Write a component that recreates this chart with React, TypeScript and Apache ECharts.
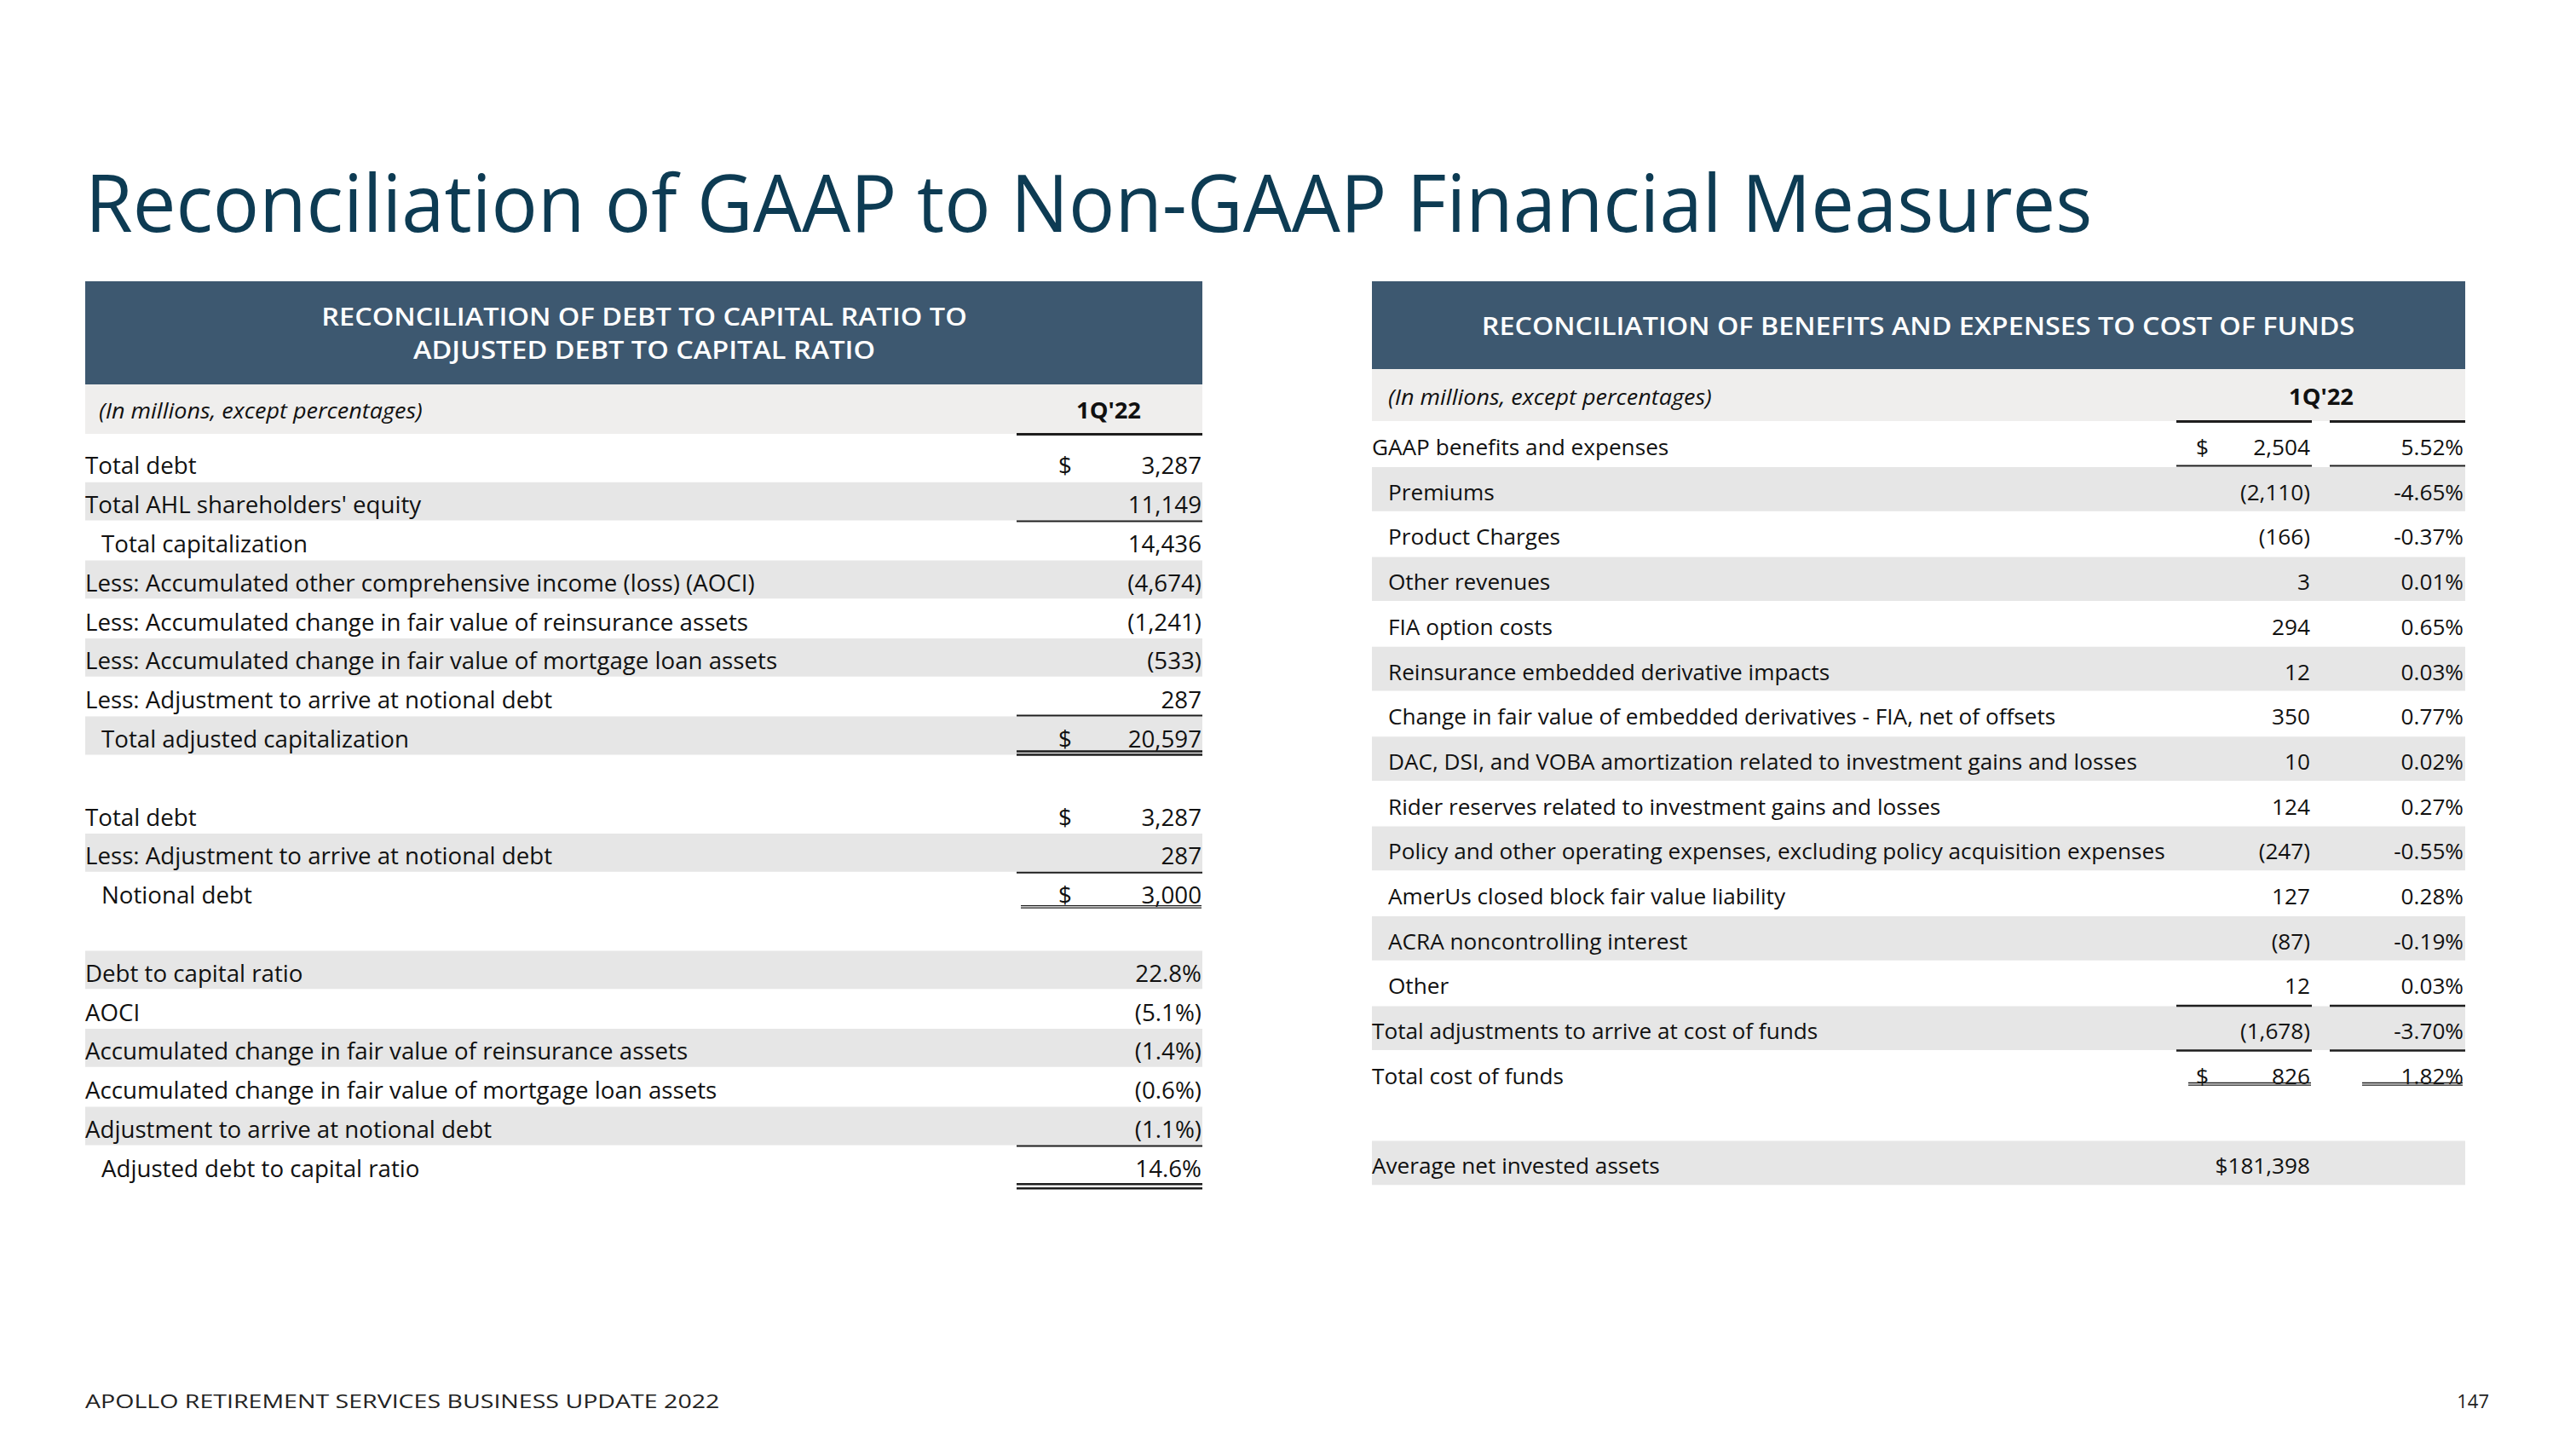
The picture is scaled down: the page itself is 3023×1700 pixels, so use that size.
import React, { useEffect, useRef } from "react";
import * as echarts from "echarts";

// ---------- DATA ----------
const pageTitle = "Reconciliation of GAAP to Non-GAAP Financial Measures";
const footerText = "APOLLO RETIREMENT SERVICES BUSINESS UPDATE 2022";
const pageNumber = "147";
const unitNote = "(In millions, except percentages)";
const periodLabel = "1Q'22";

const leftTitleLines = ["RECONCILIATION OF DEBT TO CAPITAL RATIO TO", "ADJUSTED DEBT TO CAPITAL RATIO"];
const leftLabels = [
  "Total debt",
  "Total AHL shareholders' equity",
  "Total capitalization",
  "Less: Accumulated other comprehensive income (loss) (AOCI)",
  "Less: Accumulated change in fair value of reinsurance assets",
  "Less: Accumulated change in fair value of mortgage loan assets",
  "Less: Adjustment to arrive at notional debt",
  "Total adjusted capitalization",
  "",
  "Total debt",
  "Less: Adjustment to arrive at notional debt",
  "Notional debt",
  "",
  "Debt to capital ratio",
  "AOCI",
  "Accumulated change in fair value of reinsurance assets",
  "Accumulated change in fair value of mortgage loan assets",
  "Adjustment to arrive at notional debt",
  "Adjusted debt to capital ratio",
];
const leftValues = [
  "3,287", "11,149", "14,436", "(4,674)", "(1,241)", "(533)", "287", "20,597", "",
  "3,287", "287", "3,000", "",
  "22.8%", "(5.1%)", "(1.4%)", "(0.6%)", "(1.1%)", "14.6%",
];
const leftDollarRows = [0, 7, 9, 11];
const leftIndentRows = [2, 7, 11, 18];
const leftGrayRows = [1, 3, 5, 7, 10, 13, 15, 17];

const rightTitle = "RECONCILIATION OF BENEFITS AND EXPENSES TO COST OF FUNDS";
const rightLabels = [
  "GAAP benefits and expenses",
  "Premiums",
  "Product Charges",
  "Other revenues",
  "FIA option costs",
  "Reinsurance embedded derivative impacts",
  "Change in fair value of embedded derivatives - FIA, net of offsets",
  "DAC, DSI, and VOBA amortization related to investment gains and losses",
  "Rider reserves related to investment gains and losses",
  "Policy and other operating expenses, excluding policy acquisition expenses",
  "AmerUs closed block fair value liability",
  "ACRA noncontrolling interest",
  "Other",
  "Total adjustments to arrive at cost of funds",
  "Total cost of funds",
  "",
  "Average net invested assets",
];
const rightValues = [
  "2,504", "(2,110)", "(166)", "3", "294", "12", "350", "10", "124", "(247)", "127", "(87)", "12",
  "(1,678)", "826", "", "$181,398",
];
const rightPercents = [
  "5.52%", "-4.65%", "-0.37%", "0.01%", "0.65%", "0.03%", "0.77%", "0.02%", "0.27%", "-0.55%",
  "0.28%", "-0.19%", "0.03%", "-3.70%", "1.82%", "", "",
];
const rightDollarRows = [0, 14];
const rightIndentRows = [1, 2, 3, 4, 5, 6, 7, 8, 9, 10, 11, 12];
const rightGrayRows = [1, 3, 5, 7, 9, 11, 13, 16];

// ---------- STYLE ----------
const FAM = "Open Sans";
const FONT = '"Open Sans", "Noto Sans", sans-serif';
const TITLE_C = "#0d3b53";
const HEAD_C = "#3d5870";
const SUB_C = "#efeeed";
const BAND_C = "#e6e6e6";
const TXT = "#111111";

let ctx: CanvasRenderingContext2D | null = null;
function measure(text: string, size: number, weight: string | number = "normal", style = "normal") {
  if (!ctx) ctx = document.createElement("canvas").getContext("2d");
  if (!ctx) return text.length * size * 0.5;
  ctx.font = `${style} ${weight} ${size}px "${FAM}"`;
  return ctx.measureText(text).width;
}
function fitScale(text: string, size: number, target: number, weight: string | number = "normal", style = "normal") {
  const w = measure(text, size, weight, style);
  const s = target / w;
  return Math.max(0.6, Math.min(1.4, s));
}

function txt(
  text: string, x: number, y: number, size: number, scaleX: number,
  opts: { align?: string; weight?: string | number; style?: string; fill?: string } = {}
) {
  const align = opts.align || "left";
  return {
    type: "text",
    x, y, scaleX, scaleY: 1,
    silent: true,
    style: {
      text,
      fontSize: size,
      fontFamily: FONT,
      fontWeight: opts.weight || "normal",
      fontStyle: opts.style || "normal",
      fill: opts.fill || TXT,
      align, textAlign: align,
      verticalAlign: "middle", textVerticalAlign: "middle",
    },
  };
}
function rect(x: number, y: number, w: number, h: number, fill: string) {
  return { type: "rect", silent: true, shape: { x, y, width: w, height: h }, style: { fill } };
}
function hline(x1: number, x2: number, y: number, lw: number, stroke = "#1e1e1e") {
  return { type: "line", silent: true, shape: { x1, y1: y, x2, y2: y }, style: { stroke, lineWidth: lw } };
}

function buildGraphics() {
  const els: any[] = [];

  // Title
  const tSize = 93;
  els.push(txt(pageTitle, 100, 236, tSize, fitScale(pageTitle, tSize, 2355), { fill: TITLE_C }));

  // ===== LEFT TABLE =====
  const LX = 100, LR = 1411;
  els.push(rect(LX, 330, LR - LX, 121, HEAD_C));
  const hSize = 28;
  const hScale = fitScale(leftTitleLines[0], hSize, 758, 600);
  els.push(txt(leftTitleLines[0], 756, 371, hSize, hScale, { align: "center", weight: 600, fill: "#ffffff" }));
  els.push(txt(leftTitleLines[1], 756, 410, hSize, hScale, { align: "center", weight: 600, fill: "#ffffff" }));
  els.push(rect(LX, 451, LR - LX, 58, SUB_C));
  const subSize = 25;
  const subScale = fitScale(unitNote, subSize, 380, "normal", "italic");
  els.push(txt(unitNote, 116, 481, subSize, subScale, { style: "italic" }));
  const pSize = 26;
  const pScale = fitScale(periodLabel, pSize, 76, 700);
  els.push(txt(periodLabel, 1301, 481, pSize, pScale, { align: "center", weight: 700 }));
  els.push(hline(1193, LR, 509.5, 3));

  const LT = 520, LP = 45.8;
  const lSize = 27.5;
  const lScale = fitScale(leftLabels[3], lSize, 786);
  leftLabels.forEach((lab, i) => {
    const top = LT + i * LP;
    if (leftGrayRows.includes(i)) els.push(rect(LX, top, LR - LX, LP - 1, BAND_C));
  });
  leftLabels.forEach((lab, i) => {
    const top = LT + i * LP;
    const cy = top + LP / 2 + 3;
    if (lab) els.push(txt(lab, leftIndentRows.includes(i) ? 119 : LX, cy, lSize, lScale));
    if (leftValues[i]) els.push(txt(leftValues[i], 1410, cy, lSize, lScale, { align: "right" }));
    if (leftDollarRows.includes(i)) els.push(txt("$", 1242, cy, lSize, lScale));
  });
  const rowB = (i: number) => LT + (i + 1) * LP;
  els.push(hline(1193, LR, rowB(1), 2));
  els.push(hline(1193, LR, rowB(6) - 1, 2));
  els.push(hline(1193, LR, rowB(7) - 5, 2.5));
  els.push(hline(1193, LR, rowB(7) - 1, 2.5));
  els.push(hline(1193, LR, rowB(10), 2));
  els.push(hline(1198, 1410, rowB(11) - 7, 1.3));
  els.push(hline(1198, 1410, rowB(11) - 4.5, 1.3));
  els.push(hline(1193, LR, rowB(17), 2));
  els.push(hline(1193, LR, rowB(18) - 1, 2.5));
  els.push(hline(1193, LR, rowB(18) + 4, 2.5));

  // ===== RIGHT TABLE =====
  const RX = 1610, RR = 2893;
  els.push(rect(RX, 330, RR - RX, 103, HEAD_C));
  els.push(txt(rightTitle, 2251, 382, hSize, fitScale(rightTitle, hSize, 1025, 600), { align: "center", weight: 600, fill: "#ffffff" }));
  els.push(rect(RX, 433, RR - RX, 61, SUB_C));
  els.push(txt(unitNote, 1629, 465, subSize, subScale, { style: "italic" }));
  els.push(txt(periodLabel, 2724, 465, pSize, pScale, { align: "center", weight: 700 }));
  const seg1: [number, number] = [2554, 2713];
  const seg2: [number, number] = [2734, 2893];
  els.push(hline(seg1[0], seg1[1], 494.5, 3));
  els.push(hline(seg2[0], seg2[1], 494.5, 3));

  const RT = 494.8, RP = 52.7;
  const rSize = 25.5;
  const rScale = fitScale(rightLabels[9], rSize, 912);
  rightLabels.forEach((lab, i) => {
    const top = RT + i * RP;
    if (rightGrayRows.includes(i)) els.push(rect(RX, top + 0.5, RR - RX, RP - 1, BAND_C));
  });
  rightLabels.forEach((lab, i) => {
    const top = RT + i * RP;
    const cy = top + RP / 2 + 3;
    if (lab) els.push(txt(lab, rightIndentRows.includes(i) ? 1629 : RX, cy, rSize, rScale));
    if (rightValues[i]) els.push(txt(rightValues[i], 2711, cy, rSize, rScale, { align: "right" }));
    if (rightPercents[i]) els.push(txt(rightPercents[i], 2891, cy, rSize, rScale, { align: "right" }));
    if (rightDollarRows.includes(i)) els.push(txt("$", 2577, cy, rSize, rScale));
  });
  const rB = (i: number) => RT + (i + 1) * RP;
  [seg1, seg2].forEach((s) => {
    els.push(hline(s[0], s[1], rB(0) - 1, 2));
    els.push(hline(s[0], s[1], rB(12), 2.5));
    els.push(hline(s[0], s[1], rB(13), 2.5));
  });
  els.push(hline(2568, 2712, 1270.5, 1.3));
  els.push(hline(2568, 2712, 1273.2, 1.3));
  els.push(hline(2772, 2890, 1270.5, 1.3));
  els.push(hline(2772, 2890, 1273.2, 1.3));

  // Footer
  const fSize = 22;
  els.push(txt(footerText, 100, 1643, fSize, fitScale(footerText, fSize, 745), { fill: "#222222" }));
  els.push(txt(pageNumber, 2921, 1643, fSize, 1, { align: "right", fill: "#222222" }));

  return els;
}

export default function App() {
  const ref = useRef<HTMLDivElement>(null);
  useEffect(() => {
    if (!ref.current) return;
    document.body.style.margin = "0";
    const chart = echarts.init(ref.current, undefined, { renderer: "svg", width: 3023, height: 1700 });
    chart.setOption({
      animation: false,
      backgroundColor: "#ffffff",
      graphic: { elements: buildGraphics() },
    });
    return () => chart.dispose();
  }, []);
  return (
    <div
      ref={ref}
      style={{ position: "absolute", left: 0, top: 0, width: 3023, height: 1700, background: "#fff" }}
    />
  );
}
